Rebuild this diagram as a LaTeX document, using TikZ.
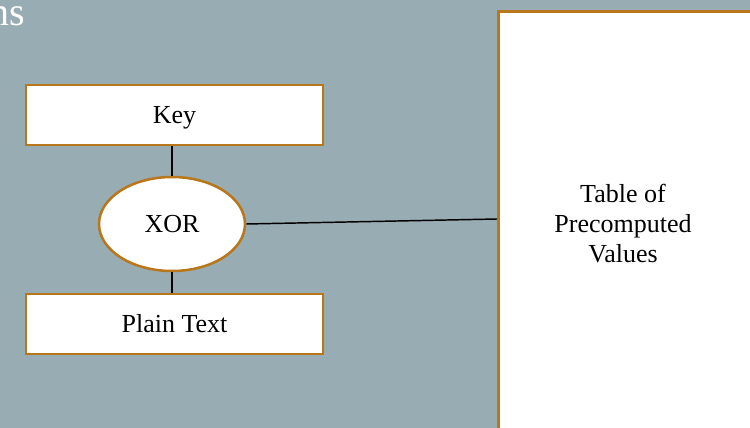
\documentclass[tikz,border=0pt]{standalone}
\usepackage{fontspec}
\setmainfont{Liberation Serif}
\usetikzlibrary{shapes.geometric}
\definecolor{slatebg}{HTML}{98ACB3}
\definecolor{amberline}{HTML}{B8771A}
\begin{document}
\begin{tikzpicture}[x=0.75pt,y=-0.75pt,
  labeltext/.style={font=\fontsize{19.5pt}{22.5pt}\selectfont,
    text height=12pt,text depth=0pt},
  box/.style={labeltext,draw=amberline,line width=1.9pt,fill=white,rectangle,
    minimum width=297*0.75pt,minimum height=60*0.75pt,inner sep=0pt},
  oval/.style={labeltext,draw=amberline,line width=1.9pt,fill=white,ellipse,
    minimum width=146*0.75pt,minimum height=94*0.75pt,inner sep=0pt},
  link/.style={draw=black,line width=1.1pt}]
\clip (0,0) rectangle (750,428);
\fill[slatebg] (0,0) rectangle (750,428);
% heading fragment
\node[anchor=base east,text=white,inner sep=0pt,
  font=\fontsize{30pt}{30pt}\selectfont] (title) at (25,25.5) {ns};
% lookup table panel
\node[draw=amberline,line width=1.9pt,fill=white,rectangle,inner sep=0pt,
  minimum width=265*0.75pt,minimum height=440*0.75pt,anchor=north west]
  (table) at (497,10) {};
\node[align=center,inner sep=0pt,
  font=\fontsize{19.5pt}{22.5pt}\selectfont] (tabletext) at (623,223.5)
  {Table of\\Precomputed\\Values};
% key, xor and plain text
\node[box] (key) at (174.5,115) {Key};
\node[oval] (xor) at (172,224) {XOR};
\node[box] (plain) at (174.5,324) {Plain Text};
\coordinate (tin) at (497,219);
\draw[link] (key.south -| xor.north) -- (xor.north);
\draw[link] (xor.south) -- (plain.north -| xor.south);
\draw[link] (xor.east) -- (tin);
\end{tikzpicture}
\end{document}
